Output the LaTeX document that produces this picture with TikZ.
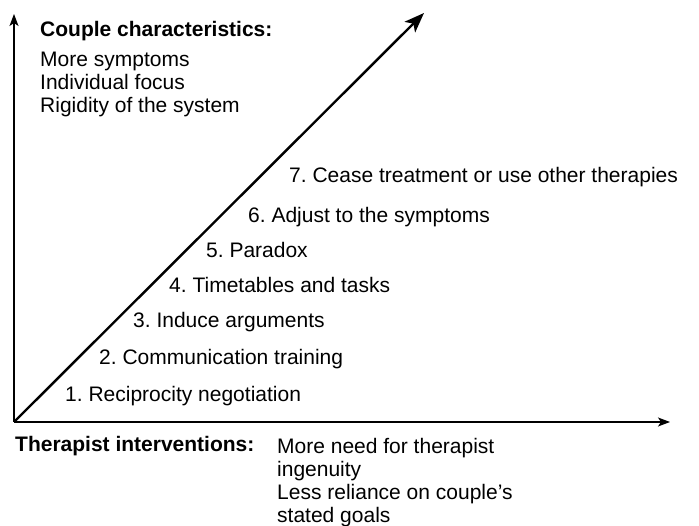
\documentclass[tikz,border=0pt]{standalone}
\usepackage{fontspec}
\setmainfont{Liberation Sans}
\usetikzlibrary{arrows.meta}
\frenchspacing

\tikzset{
    axis/.style={line width=1.2pt, -{Stealth[length=12pt, width=9pt, inset=3pt]}},
    scale line/.style={line width=2.4pt, -{Stealth[length=20pt, width=15pt, inset=5pt]}},
    lbl/.style={anchor=base west, inner sep=0pt, align=left},
}

\begin{document}
\begin{tikzpicture}[x=1pt, y=-1pt, font=\fontsize{21}{23}\selectfont]
            \useasboundingbox (0,0) rectangle (699,526);

            \coordinate (O) at (14,422);
            \coordinate (Ytip) at (14,14);
            \coordinate (Xtip) at (670,422);
            \coordinate (Dtip) at (424,13);

            \draw[axis] (O) -- (Ytip);
            \draw[axis] (O) -- (Xtip);
            \draw[scale line] (O) -- (Dtip);

            % multi-line nodes sit on the baseline of their last line
            \node[lbl, font=\fontsize{21}{23}\selectfont\bfseries] (couple) at (40,37) {Couple characteristics:};
            \node[lbl] (coupleList) at (40,113) {More symptoms\\Individual focus\\Rigidity of the system};

            \node[lbl] (s1) at (65,402) {1. Reciprocity negotiation};
            \node[lbl] (s2) at (99,365) {2. Communication training};
            \node[lbl] (s3) at (133,328) {3. Induce arguments};
            \node[lbl] (s4) at (169,293) {4. Timetables and tasks};
            \node[lbl] (s5) at (206,258) {5. Paradox};
            \node[lbl] (s6) at (248,223) {6. Adjust to the symptoms};
            \node[lbl] (s7) at (289,183) {7. Cease treatment or use other therapies};

            \node[lbl, font=\fontsize{21}{23}\selectfont\bfseries] (therapist) at (15,452) {Therapist interventions:};
            \node[lbl] (therapistList) at (277,522) {More need for therapist\\ingenuity\\Less reliance on couple’s\\stated goals};
        \end{tikzpicture}
\end{document}
